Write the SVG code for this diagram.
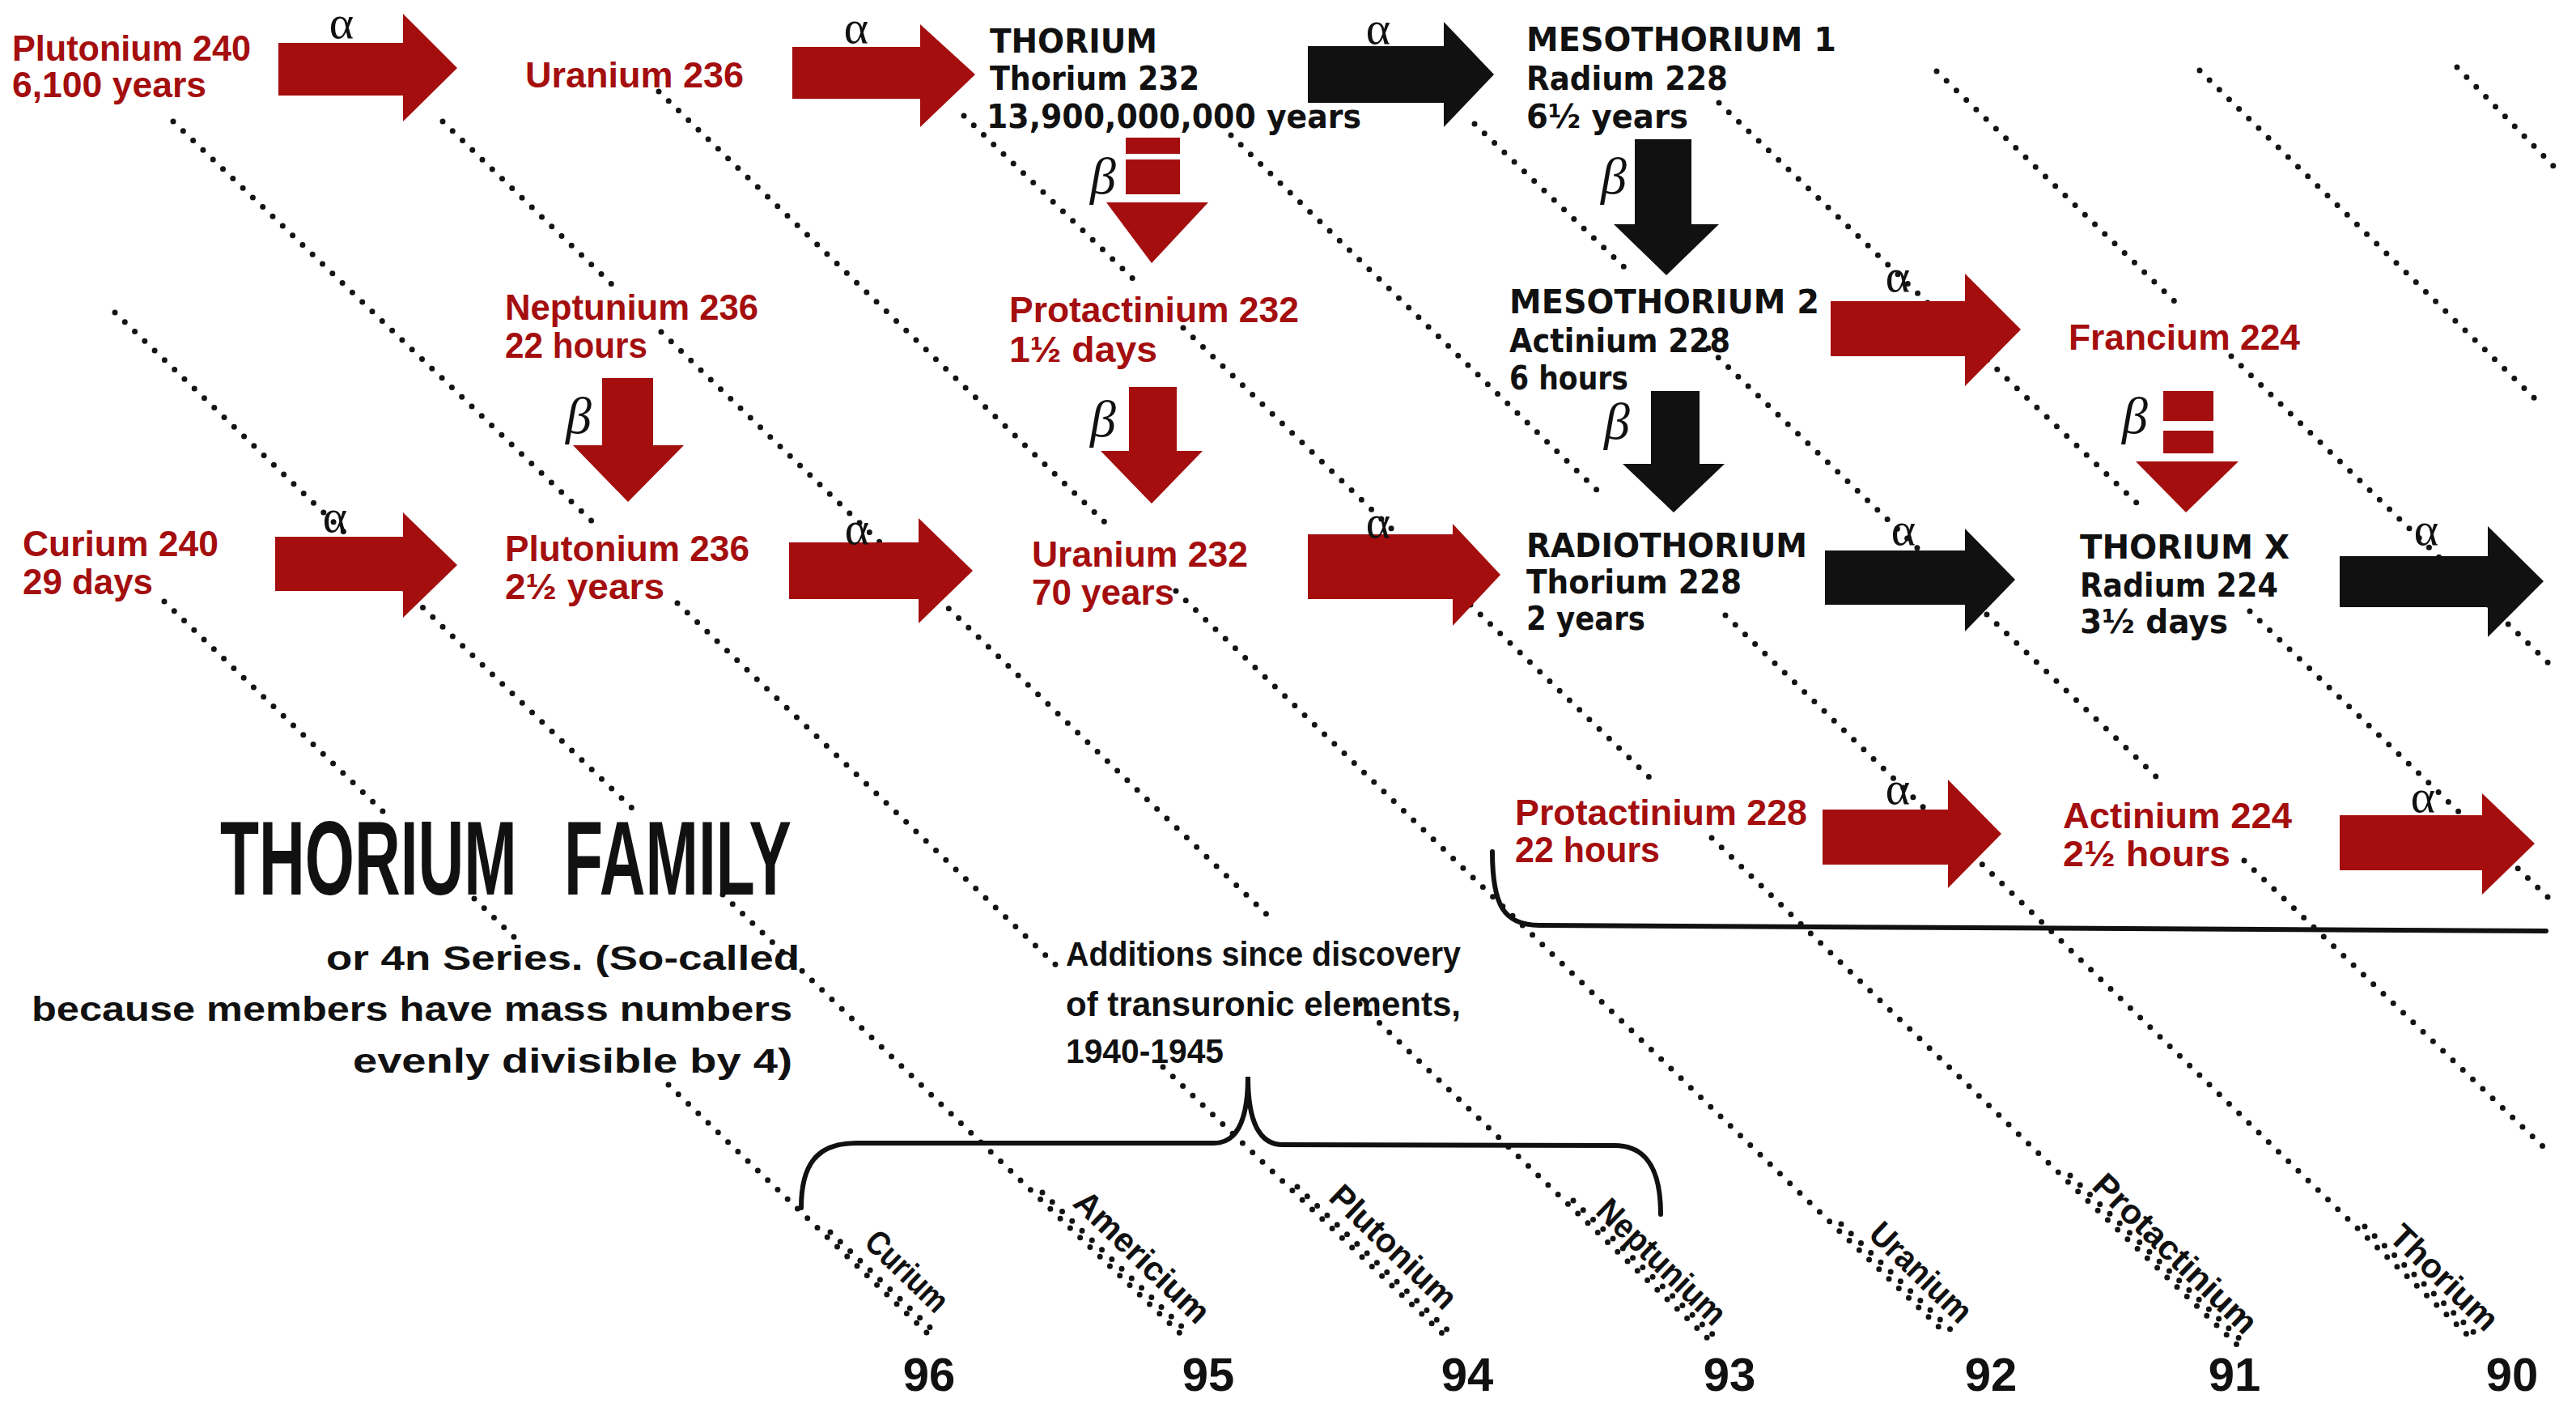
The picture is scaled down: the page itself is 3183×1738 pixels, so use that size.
<svg xmlns="http://www.w3.org/2000/svg" width="3183" height="1738" viewBox="0 0 3183 1738">
<defs>
<style>
.dot{fill:none;stroke:#141414;stroke-width:7;stroke-linecap:round;stroke-dasharray:0 17}
.br{fill:none;stroke:#111;stroke-width:6;stroke-linecap:round}
.ar{fill:#a40e0e}
.ak{fill:#111}
.r{font-family:"Liberation Sans",Arial,sans-serif;font-weight:bold;font-size:44px;fill:#a40e0e}
.k{font-family:"DejaVu Sans","Liberation Sans",sans-serif;font-weight:bold;font-size:40px;fill:#111}
.al{font-family:"Liberation Serif","Times New Roman",serif;font-size:58px;fill:#111;text-anchor:middle}
.be{font-family:"Liberation Serif","Times New Roman",serif;font-style:italic;font-size:64px;fill:#111;text-anchor:middle}
.c{font-family:"Liberation Sans",Arial,sans-serif;font-weight:bold;fill:#111}
.el{font-family:"Liberation Sans",Arial,sans-serif;font-weight:bold;font-size:42px;fill:#111}
.num{font-family:"Liberation Sans",Arial,sans-serif;font-weight:bold;font-size:58px;fill:#111;text-anchor:middle}
</style>
</defs>
<rect width="3183" height="1738" fill="#fff"/>

<g id="connectors">
  <g id="element-lines">
    <path class="dot" d="M203,743 L474,1003 M586,1110 L643,1165 M826,1340 L1149,1650 M1026,1522 L1160,1650"/>
    <path class="dot" d="M142,386 L788,1005 M893,1105 L1458,1647 M1288,1473 L1469,1647"/>
    <path class="dot" d="M214,150 L738,650 M837,745 L1313,1200 M1437,1318 L1785,1650 M1603,1466 L1796,1650"/>
    <path class="dot" d="M547,150 L760,355 M817,410 L1576,1140 M1680,1240 L2110,1653 M1944,1483 L2121,1653"/>
    <path class="dot" d="M814,113 L1365,645 M1453,730 L2407,1650 M2275,1512 L2418,1650"/>
    <path class="dot" d="M1191,143 L1408,352 M1462,405 L2040,962 M2115,1035 L2766,1663 M2558,1452 L2777,1663"/>
    <path class="dot" d="M1521,167 L1980,612 M2132,760 L3053,1653 M2922,1515 L3064,1653"/>
    <path class="dot" d="M1822,153 L2007,330 M2111,430 L2667,962 M2773,1063 L3143,1417"/>
    <path class="dot" d="M2124,127 L2644,625 M2780,755 L3150,1110"/>
    <path class="dot" d="M2393,88 L2695,380 M2757,440 L3150,820"/>
    <path class="dot" d="M2718,87 L3140,500"/>
    <path class="dot" d="M3036,83 L3160,210"/>
  </g>
  <g id="braces">
    <path class="br" d="M1844,1052 C1844,1118 1858,1143 1902,1143 L3146,1150"/>
    <path class="br" d="M990,1492 C990,1440 1008,1412 1058,1412 L1500,1412 C1528,1412 1542,1385 1542,1330 C1542,1385 1556,1414 1585,1414 L1995,1415 C2035,1415 2052,1445 2052,1500"/>
  </g>
  <g id="alpha-arrows">
    <polygon class="ar" points="344,53 498,53 498,17 565,84 498,150 498,118 344,118"/>
    <polygon class="ar" points="979,58 1137,58 1137,30 1205,92 1137,157 1137,122 979,122"/>
    <polygon class="ak" points="1616,57 1784,57 1784,27 1846,92 1784,157 1784,127 1616,127"/>
    <polygon class="ar" points="2262,372 2428,372 2428,338 2497,407 2428,477 2428,440 2262,440"/>
    <polygon class="ar" points="340,663 498,663 498,633 565,698 498,763 498,730 340,730"/>
    <polygon class="ar" points="975,670 1135,670 1135,640 1202,705 1135,770 1135,740 975,740"/>
    <polygon class="ar" points="1616,660 1795,660 1795,647 1854,710 1795,773 1795,740 1616,740"/>
    <polygon class="ak" points="2255,680 2428,680 2428,653 2490,716 2428,780 2428,747 2255,747"/>
    <polygon class="ak" points="2891,687 3074,687 3074,650 3143,718 3074,787 3074,750 2891,750"/>
    <polygon class="ar" points="2252,1000 2407,1000 2407,963 2473,1030 2407,1097 2407,1068 2252,1068"/>
    <polygon class="ar" points="2891,1007 3067,1007 3067,980 3132,1042 3067,1105 3067,1075 2891,1075"/>
  </g>
  <g id="beta-arrows">
    <rect class="ar" x="1391" y="170" width="67" height="20"/>
    <rect class="ar" x="1391" y="197" width="67" height="43"/>
    <polygon class="ar" points="1367,250 1493,250 1423,325"/>
    <polygon class="ak" points="2020,172 2090,172 2090,277 2124,277 2059,340 1994,277 2020,277"/>
    <polygon class="ar" points="744,467 807,467 807,550 845,550 776,620 708,550 744,550"/>
    <polygon class="ar" points="1395,478 1454,478 1454,557 1486,557 1423,622 1360,557 1395,557"/>
    <polygon class="ak" points="2040,483 2100,483 2100,573 2131,573 2068,633 2005,573 2040,573"/>
    <rect class="ar" x="2673" y="483" width="62" height="37"/>
    <rect class="ar" x="2673" y="532" width="62" height="28"/>
    <polygon class="ar" points="2639,570 2766,570 2701,633"/>
  </g>
  <g id="decay-labels">
    <text class="al" x="422" y="47" font-size="50">α</text>
    <text class="al" x="1058" y="53">α</text>
    <text class="al" x="1703" y="54">α</text>
    <text class="al" x="2345" y="360">α</text>
    <text class="al" x="414" y="657">α</text>
    <text class="al" x="1059" y="672">α</text>
    <text class="al" x="1703" y="664">α</text>
    <text class="al" x="2352" y="673">α</text>
    <text class="al" x="2998" y="673">α</text>
    <text class="al" x="2345" y="993">α</text>
    <text class="al" x="2994" y="1003">α</text>
    <text class="be" x="1363" y="239">β</text>
    <text class="be" x="1994" y="239">β</text>
    <text class="be" x="715" y="535">β</text>
    <text class="be" x="1363" y="539">β</text>
    <text class="be" x="1998" y="542">β</text>
    <text class="be" x="2638" y="535">β</text>
  </g>
</g>

<g id="pu240"><text class="r" x="15" y="75" textLength="295" lengthAdjust="spacingAndGlyphs">Plutonium 240</text><text class="r" x="15" y="120" textLength="240" lengthAdjust="spacingAndGlyphs">6,100 years</text></g>
<g id="u236"><text class="r" x="649" y="108" textLength="270" lengthAdjust="spacingAndGlyphs">Uranium 236</text></g>
<g id="th232"><text class="k" x="1223" y="65" textLength="207" lengthAdjust="spacingAndGlyphs">THORIUM</text><text class="k" x="1223" y="111" textLength="259" lengthAdjust="spacingAndGlyphs">Thorium 232</text><text class="k" x="1219" y="158" textLength="463" lengthAdjust="spacingAndGlyphs">13,900,000,000 years</text></g>
<g id="ra228"><text class="k" x="1886" y="63" textLength="383" lengthAdjust="spacingAndGlyphs">MESOTHORIUM 1</text><text class="k" x="1886" y="111" textLength="249" lengthAdjust="spacingAndGlyphs">Radium 228</text><text class="k" x="1886" y="158" textLength="200" lengthAdjust="spacingAndGlyphs">6½ years</text></g>
<g id="np236"><text class="r" x="624" y="395" textLength="313" lengthAdjust="spacingAndGlyphs">Neptunium 236</text><text class="r" x="624" y="442" textLength="176" lengthAdjust="spacingAndGlyphs">22 hours</text></g>
<g id="pa232"><text class="r" x="1247" y="398" textLength="358" lengthAdjust="spacingAndGlyphs">Protactinium 232</text><text class="r" x="1247" y="447" textLength="183" lengthAdjust="spacingAndGlyphs">1½ days</text></g>
<g id="ac228"><text class="k" x="1865" y="387" textLength="383" lengthAdjust="spacingAndGlyphs">MESOTHORIUM 2</text><text class="k" x="1865" y="435" textLength="273" lengthAdjust="spacingAndGlyphs">Actinium 228</text><text class="k" x="1865" y="481" textLength="147" lengthAdjust="spacingAndGlyphs">6 hours</text></g>
<g id="fr224"><text class="r" x="2556" y="432" textLength="286" lengthAdjust="spacingAndGlyphs">Francium 224</text></g>
<g id="cm240"><text class="r" x="28" y="687" textLength="242" lengthAdjust="spacingAndGlyphs">Curium 240</text><text class="r" x="28" y="734" textLength="161" lengthAdjust="spacingAndGlyphs">29 days</text></g>
<g id="pu236"><text class="r" x="624" y="693" textLength="302" lengthAdjust="spacingAndGlyphs">Plutonium 236</text><text class="r" x="624" y="740" textLength="197" lengthAdjust="spacingAndGlyphs">2½ years</text></g>
<g id="u232"><text class="r" x="1275" y="700" textLength="267" lengthAdjust="spacingAndGlyphs">Uranium 232</text><text class="r" x="1275" y="747" textLength="176" lengthAdjust="spacingAndGlyphs">70 years</text></g>
<g id="th228"><text class="k" x="1886" y="688" textLength="347" lengthAdjust="spacingAndGlyphs">RADIOTHORIUM</text><text class="k" x="1886" y="733" textLength="266" lengthAdjust="spacingAndGlyphs">Thorium 228</text><text class="k" x="1886" y="778" textLength="147" lengthAdjust="spacingAndGlyphs">2 years</text></g>
<g id="ra224"><text class="k" x="2570" y="690" textLength="259" lengthAdjust="spacingAndGlyphs">THORIUM X</text><text class="k" x="2570" y="737" textLength="245" lengthAdjust="spacingAndGlyphs">Radium 224</text><text class="k" x="2570" y="782" textLength="183" lengthAdjust="spacingAndGlyphs">3½ days</text></g>
<g id="pa228"><text class="r" x="1872" y="1019" textLength="361" lengthAdjust="spacingAndGlyphs">Protactinium 228</text><text class="r" x="1872" y="1065" textLength="179" lengthAdjust="spacingAndGlyphs">22 hours</text></g>
<g id="ac224"><text class="r" x="2549" y="1023" textLength="283" lengthAdjust="spacingAndGlyphs">Actinium 224</text><text class="r" x="2549" y="1070" textLength="207" lengthAdjust="spacingAndGlyphs">2½ hours</text></g>

<g id="title">
  <text class="c" x="272" y="1105" font-size="130" style="word-spacing:60px" textLength="706" lengthAdjust="spacingAndGlyphs">THORIUM FAMILY</text>
  <text class="c" x="403" y="1198" font-size="42" textLength="585" lengthAdjust="spacingAndGlyphs">or 4n Series. (So-called</text>
  <text class="c" x="39" y="1261" font-size="42" textLength="940" lengthAdjust="spacingAndGlyphs">because members have mass numbers</text>
  <text class="c" x="436" y="1325" font-size="42" textLength="543" lengthAdjust="spacingAndGlyphs">evenly divisible by 4)</text>
</g>
<g id="additions">
  <text class="c" x="1317" y="1193" font-size="42" textLength="488" lengthAdjust="spacingAndGlyphs">Additions since discovery</text>
  <text class="c" x="1317" y="1255" font-size="42" textLength="488" lengthAdjust="spacingAndGlyphs">of transuronic elements,</text>
  <text class="c" x="1317" y="1313" font-size="42" textLength="195" lengthAdjust="spacingAndGlyphs">1940-1945</text>
</g>

<g id="element-names">
  <text class="el" transform="translate(1066,1537) rotate(44)" textLength="125" lengthAdjust="spacingAndGlyphs">Curium</text>
  <text class="el" transform="translate(1324,1488) rotate(44)" textLength="215" lengthAdjust="spacingAndGlyphs">Americium</text>
  <text class="el" transform="translate(1640,1481) rotate(44)" textLength="200" lengthAdjust="spacingAndGlyphs">Plutonium</text>
  <text class="el" transform="translate(1970,1498) rotate(44)" textLength="204" lengthAdjust="spacingAndGlyphs">Neptunium</text>
  <text class="el" transform="translate(2307,1527) rotate(44)" textLength="158" lengthAdjust="spacingAndGlyphs">Uranium</text>
  <text class="el" transform="translate(2583,1467) rotate(44)" textLength="264" lengthAdjust="spacingAndGlyphs">Protactinium</text>
  <text class="el" transform="translate(2950,1530) rotate(44)" textLength="168" lengthAdjust="spacingAndGlyphs">Thorium</text>
</g>
<g id="atomic-numbers">
  <text class="num" x="1148" y="1718">96</text>
  <text class="num" x="1493" y="1718">95</text>
  <text class="num" x="1813" y="1718">94</text>
  <text class="num" x="2137" y="1718">93</text>
  <text class="num" x="2460" y="1718">92</text>
  <text class="num" x="2761" y="1718">91</text>
  <text class="num" x="3104" y="1718">90</text>
</g>
</svg>
